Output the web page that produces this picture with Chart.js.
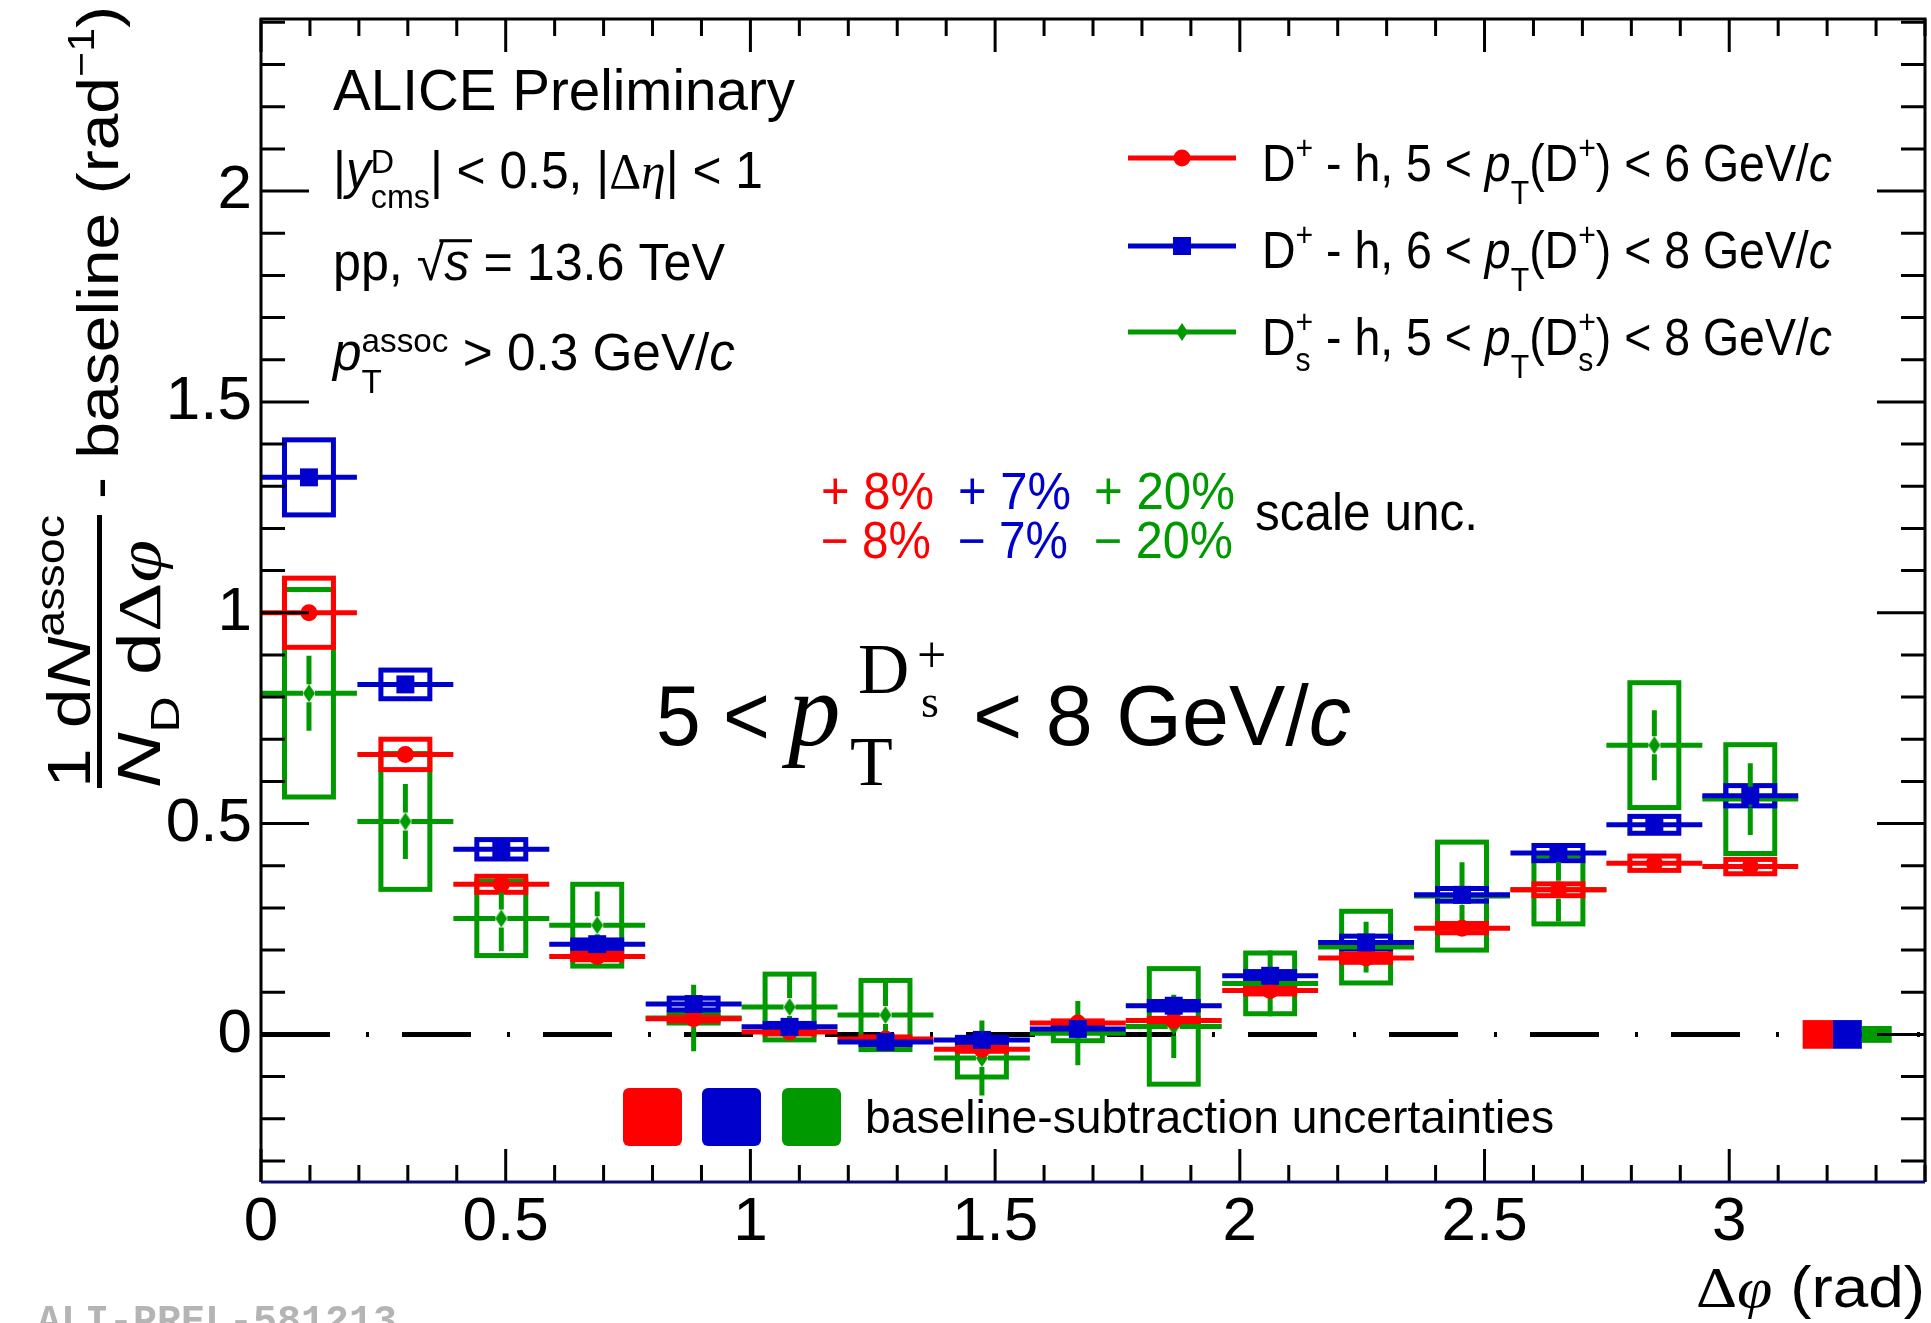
<!DOCTYPE html>
<html>
<head>
<meta charset="utf-8">
<script src="https://cdn.jsdelivr.net/npm/chart.js@4.4.1/dist/chart.umd.min.js"></script>
<style>
html, body { margin: 0; padding: 0; background: #fff; }
canvas { display: block; }
</style>
</head>
<body>
<canvas id="grafico" width="1931" height="1323"></canvas>
<script>
// bin centres in delta phi (rad); bins are pi/16 wide
const dPhi = [0.098, 0.295, 0.491, 0.687, 0.884, 1.080, 1.276, 1.473, 1.669, 1.865, 2.062, 2.258, 2.454, 2.651, 2.847, 3.043];
const halfBin = 0.098;
const boxHalf = 0.05;

// D+ - h, 5 < pT < 6 GeV/c (red)
const dplus56 = [1.000, 0.664, 0.356, 0.185, 0.037, 0.006, -0.011, -0.035, 0.027, 0.033, 0.104, 0.181, 0.252, 0.343, 0.406, 0.398];
const dplus56Stat = [0.018, 0.012, 0.008, 0.007, 0.006, 0.006, 0.006, 0.006, 0.006, 0.006, 0.007, 0.007, 0.008, 0.009, 0.010, 0.010];
const dplus56Syst = [0.082, 0.036, 0.019, 0.008, 0.005, 0.005, 0.005, 0.005, 0.005, 0.005, 0.008, 0.010, 0.011, 0.014, 0.017, 0.017];

// D+ - h, 6 < pT < 8 GeV/c (blue)
const dplus68 = [1.321, 0.830, 0.439, 0.214, 0.072, 0.018, -0.018, -0.013, 0.013, 0.068, 0.139, 0.218, 0.331, 0.430, 0.497, 0.566];
const dplus68Stat = [0.018, 0.012, 0.008, 0.007, 0.006, 0.006, 0.006, 0.006, 0.006, 0.006, 0.007, 0.007, 0.008, 0.009, 0.010, 0.010];
const dplus68Syst = [0.089, 0.034, 0.023, 0.010, 0.014, 0.008, 0.006, 0.006, 0.006, 0.010, 0.010, 0.015, 0.015, 0.018, 0.020, 0.024];

// Ds+ - h, 5 < pT < 8 GeV/c (green)
const ds58 = [0.809, 0.505, 0.275, 0.259, 0.039, 0.065, 0.046, -0.056, 0.003, 0.019, 0.121, 0.207, 0.328, 0.343, 0.686, 0.558];
const ds58Stat = [0.089, 0.089, 0.078, 0.080, 0.079, 0.078, 0.083, 0.089, 0.076, 0.075, 0.078, 0.060, 0.080, 0.075, 0.083, 0.085];
const ds58Syst = [0.246, 0.161, 0.088, 0.097, 0.012, 0.078, 0.082, 0.045, 0.018, 0.137, 0.072, 0.085, 0.128, 0.081, 0.148, 0.129];

// baseline-subtraction uncertainties (red, blue, green), drawn right of pi
const baselineUnc = [0.034, 0.034, 0.020];
const baselineLeft = [3.150, 3.212, 3.271];
const baselineRight = [3.212, 3.271, 3.332];

const zeroLine = [{x: 0, y: 0}, {x: 3.4, y: 0}];

const RED = '#ff0000', BLUE = '#0000cc', GREEN = '#009900';
const SANS = '"Liberation Sans", Arial, sans-serif';
const SERIF = '"Liberation Serif", "Times New Roman", serif';

// thin diamond marker for the Ds series
const diamond = document.createElement('canvas');
diamond.width = 12; diamond.height = 18;
const dg = diamond.getContext('2d');
dg.fillStyle = GREEN;
dg.beginPath(); dg.moveTo(6, 0); dg.lineTo(12, 9); dg.lineTo(6, 18); dg.lineTo(0, 9); dg.closePath(); dg.fill();

function pontos(vals) {
    return dPhi.map(function(x, i) { return {x: x, y: vals[i]}; });
}

function rotuloMeio(value) {
    const v2 = value * 2;
    return Math.abs(v2 - Math.round(v2)) < 1e-6 ? String(Math.round(value * 10) / 10) : '';
}

// text with super/subscripts, squeezed to a given width
function richText(ctx, x, y, parts, fs, width, color) {
    const items = [];
    let cx = 0, prevX = 0;
    for (const p of parts) {
        const size = fs * (p.s || (p.lvl ? 0.65 : 1));
        const font = (p.it ? 'italic ' : '') + size.toFixed(1) + 'px ' + (p.serif ? SERIF : SANS);
        ctx.font = font;
        const w = ctx.measureText(p.t).width;
        const dy = p.dy !== undefined ? p.dy * fs : (p.lvl === 'sup' ? -0.36 * fs : p.lvl === 'sub' ? 0.4 * fs : 0);
        let px;
        if (p.stack) { px = prevX; cx = Math.max(cx, prevX + w); }
        else { px = cx; cx += w; }
        items.push({font: font, t: p.t, x: px, dy: dy, w: w, size: size, over: p.over});
        prevX = px;
    }
    const sx = width ? width / cx : 1;
    ctx.save();
    ctx.translate(x, y);
    ctx.scale(sx, 1);
    ctx.fillStyle = color || '#000';
    ctx.textBaseline = 'alphabetic';
    ctx.textAlign = 'left';
    for (const it of items) {
        ctx.font = it.font;
        ctx.fillText(it.t, it.x, it.dy);
        if (it.over) ctx.fillRect(it.x - 0.1 * it.size, it.dy - 0.8 * it.size, it.w + 0.15 * it.size, 0.06 * it.size);
    }
    ctx.restore();
}

function drawBoxes(ctx, xs, ys, vals, syst, color) {
    ctx.strokeStyle = color;
    ctx.lineWidth = 5;
    for (let i = 0; i < vals.length; i++) {
        const l = xs.getPixelForValue(dPhi[i] - boxHalf), r = xs.getPixelForValue(dPhi[i] + boxHalf);
        const t = ys.getPixelForValue(vals[i] + syst[i]), b = ys.getPixelForValue(vals[i] - syst[i]);
        ctx.strokeRect(l, t, r - l, b - t);
    }
}

function drawBars(ctx, xs, ys, vals, stat, color, gx, gy) {
    ctx.strokeStyle = color;
    ctx.lineWidth = 5;
    ctx.lineCap = 'butt';
    for (let i = 0; i < vals.length; i++) {
        const px = xs.getPixelForValue(dPhi[i]), py = ys.getPixelForValue(vals[i]);
        const l = xs.getPixelForValue(dPhi[i] - halfBin), r = xs.getPixelForValue(dPhi[i] + halfBin);
        const t = ys.getPixelForValue(vals[i] + stat[i]), b = ys.getPixelForValue(vals[i] - stat[i]);
        ctx.beginPath();
        ctx.moveTo(l, py); ctx.lineTo(px - gx, py);
        ctx.moveTo(px + gx, py); ctx.lineTo(r, py);
        if (py - t > gy) {
            ctx.moveTo(px, t); ctx.lineTo(px, py - gy);
            ctx.moveTo(px, py + gy); ctx.lineTo(px, b);
        }
        ctx.stroke();
    }
}

const errorPlugin = {
    id: 'erros',
    afterDatasetDraw(chart, args) {
        if (args.index !== 0) return;
        const ctx = chart.ctx, xs = chart.scales.x, ys = chart.scales.y;
        ctx.save();
        drawBoxes(ctx, xs, ys, ds58, ds58Syst, GREEN);
        drawBoxes(ctx, xs, ys, dplus56, dplus56Syst, RED);
        drawBoxes(ctx, xs, ys, dplus68, dplus68Syst, BLUE);
        const cores = [RED, BLUE, GREEN];
        for (let k = 0; k < 3; k++) {
            ctx.fillStyle = cores[k];
            const l = xs.getPixelForValue(baselineLeft[k]), r = xs.getPixelForValue(baselineRight[k]);
            const t = ys.getPixelForValue(baselineUnc[k]), b = ys.getPixelForValue(-baselineUnc[k]);
            ctx.fillRect(l, t, r - l, b - t);
        }
        drawBars(ctx, xs, ys, ds58, ds58Stat, GREEN, 6, 9);
        drawBars(ctx, xs, ys, dplus56, dplus56Stat, RED, 0, 9);
        drawBars(ctx, xs, ys, dplus68, dplus68Stat, BLUE, 0, 9);
        ctx.restore();
    }
};

const framePlugin = {
    id: 'moldura',
    afterDraw(chart) {
        const ctx = chart.ctx, a = chart.chartArea, xs = chart.scales.x, ys = chart.scales.y;
        ctx.save();
        // ticks
        ctx.strokeStyle = '#000';
        ctx.lineWidth = 3;
        ctx.beginPath();
        ys.ticks.forEach(function(t) {
            const p = ys.getPixelForValue(t.value);
            const len = t.label !== '' ? 48 : 24;
            ctx.moveTo(a.left, p); ctx.lineTo(a.left + len, p);
            ctx.moveTo(a.right, p); ctx.lineTo(a.right - len, p);
        });
        xs.ticks.forEach(function(t) {
            const p = xs.getPixelForValue(t.value);
            const len = t.label !== '' ? 33 : 17;
            ctx.moveTo(p, a.bottom); ctx.lineTo(p, a.bottom - len);
            ctx.moveTo(p, a.top); ctx.lineTo(p, a.top + len);
        });
        ctx.stroke();
        ctx.beginPath();
        ctx.moveTo(a.left, a.bottom); ctx.lineTo(a.left, a.top); ctx.lineTo(a.right, a.top); ctx.lineTo(a.right, a.bottom);
        ctx.stroke();
        ctx.strokeStyle = '#0a0a6e';
        ctx.beginPath(); ctx.moveTo(a.left, a.bottom); ctx.lineTo(a.right, a.bottom); ctx.stroke();

        // header text
        richText(ctx, 333, 110, [{t: 'ALICE Preliminary'}], 58, 462);
        richText(ctx, 333, 188, [{t: '|'}, {t: 'y', it: true}, {t: 'D', lvl: 'sup', dy: -0.3}, {t: 'cms', lvl: 'sub', stack: true, dy: 0.39},
            {t: '| < 0.5, |'}, {t: 'Δ', serif: true}, {t: 'η', serif: true, it: true}, {t: '| < 1'}], 51, 430);
        richText(ctx, 333, 280, [{t: 'pp, '}, {t: '√'}, {t: 's', it: true, over: true}, {t: ' = 13.6 TeV'}], 51, 392);
        richText(ctx, 333, 370, [{t: 'p', it: true}, {t: 'assoc', lvl: 'sup', dy: -0.35}, {t: 'T', lvl: 'sub', stack: true, dy: 0.45},
            {t: ' > 0.3 GeV/'}, {t: 'c', it: true}], 51, 402);

        // legend
        const legY = [158, 246, 332];
        const legC = [RED, BLUE, GREEN];
        ctx.lineWidth = 5;
        for (let k = 0; k < 3; k++) {
            ctx.strokeStyle = legC[k];
            ctx.beginPath(); ctx.moveTo(1128, legY[k]); ctx.lineTo(1236, legY[k]); ctx.stroke();
        }
        ctx.fillStyle = RED;
        ctx.beginPath(); ctx.arc(1182, legY[0], 8.5, 0, Math.PI * 2); ctx.fill();
        ctx.fillStyle = BLUE;
        ctx.fillRect(1173, legY[1] - 9, 18, 18);
        ctx.drawImage(diamond, 1176, legY[2] - 9);
        richText(ctx, 1262, 181, [{t: 'D'}, {t: '+', lvl: 'sup', dy: -0.42}, {t: ' - h, 5 < '}, {t: 'p', it: true}, {t: 'T', lvl: 'sub', dy: 0.45},
            {t: '(D'}, {t: '+', lvl: 'sup', dy: -0.42}, {t: ') < 6 GeV/'}, {t: 'c', it: true}], 52, 570);
        richText(ctx, 1262, 268, [{t: 'D'}, {t: '+', lvl: 'sup', dy: -0.42}, {t: ' - h, 6 < '}, {t: 'p', it: true}, {t: 'T', lvl: 'sub', dy: 0.45},
            {t: '(D'}, {t: '+', lvl: 'sup', dy: -0.42}, {t: ') < 8 GeV/'}, {t: 'c', it: true}], 52, 570);
        richText(ctx, 1262, 355, [{t: 'D'}, {t: '+', lvl: 'sup', dy: -0.42}, {t: 's', lvl: 'sub', stack: true, dy: 0.3}, {t: ' - h, 5 < '},
            {t: 'p', it: true}, {t: 'T', lvl: 'sub', dy: 0.45}, {t: '(D'}, {t: '+', lvl: 'sup', dy: -0.42}, {t: 's', lvl: 'sub', stack: true, dy: 0.3},
            {t: ') < 8 GeV/'}, {t: 'c', it: true}], 52, 570);

        // scale uncertainties
        richText(ctx, 821, 509, [{t: '+ 8%'}], 51, 113, RED);
        richText(ctx, 821, 558, [{t: '− 8%'}], 51, 110, RED);
        richText(ctx, 958, 509, [{t: '+ 7%'}], 51, 113, BLUE);
        richText(ctx, 958, 558, [{t: '− 7%'}], 51, 110, BLUE);
        richText(ctx, 1094, 509, [{t: '+ 20%'}], 51, 141, GREEN);
        richText(ctx, 1094, 558, [{t: '− 20%'}], 51, 139, GREEN);
        richText(ctx, 1255, 530, [{t: 'scale unc.'}], 51, 223);

        // big pT label
        richText(ctx, 656, 745, [{t: '5 <'}], 86, 114);
        ctx.fillStyle = '#000';
        ctx.textAlign = 'left';
        ctx.textBaseline = 'alphabetic';
        ctx.font = 'italic 105px ' + SERIF; ctx.fillText('p', 788, 745);
        ctx.font = '70px ' + SERIF; ctx.fillText('T', 850, 785);
        ctx.font = '71px ' + SERIF; ctx.fillText('D', 858, 693);
        ctx.font = '52px ' + SERIF; ctx.fillText('+', 917, 672);
        ctx.font = '46px ' + SERIF; ctx.fillText('s', 921, 717);
        richText(ctx, 973, 745, [{t: '< 8 GeV/'}, {t: 'c', it: true}], 86, 378);

        // baseline-subtraction legend
        const sw = [[623, RED], [702, BLUE], [782, GREEN]];
        sw.forEach(function(s) {
            ctx.fillStyle = s[1];
            ctx.beginPath(); ctx.roundRect(s[0], 1088, 59, 58, 6); ctx.fill();
        });
        richText(ctx, 865, 1133, [{t: 'baseline-subtraction uncertainties'}], 46, 689);

        // x title
        richText(ctx, 1696, 1307, [{t: 'Δ', serif: true}, {t: 'φ', serif: true, it: true}, {t: ' (rad)'}], 58, 229);

        // y title (rotated)
        ctx.save();
        ctx.translate(90, 788); ctx.rotate(-Math.PI / 2);
        richText(ctx, 0, 0, [{t: '1 d'}, {t: 'N', it: true}, {t: 'assoc', lvl: 'sup', dy: -0.42}], 62, 273);
        ctx.restore();
        ctx.save();
        ctx.translate(160, 788); ctx.rotate(-Math.PI / 2);
        richText(ctx, 0, 0, [{t: 'N', it: true}, {t: 'D', lvl: 'sub', dy: 0.3}, {t: ' d'}, {t: 'Δ', serif: true}, {t: 'φ', serif: true, it: true}], 62, 248);
        ctx.restore();
        ctx.fillStyle = '#000';
        ctx.fillRect(97, 515, 5, 273);
        ctx.save();
        ctx.translate(118, 499); ctx.rotate(-Math.PI / 2);
        richText(ctx, 0, 0, [{t: '- baseline (rad'}, {t: '−1', lvl: 'sup', dy: -0.42}, {t: ')'}], 58, 493);
        ctx.restore();

        // watermark
        ctx.fillStyle = '#b4b4b4';
        ctx.font = 'bold 40px "Liberation Mono", monospace';
        ctx.fillText('ALI-PREL-581213', 37, 1333, 369);
        ctx.restore();
    }
};

const grafico = new Chart(document.getElementById('grafico'), {
    type: 'scatter',
    data: {
        datasets: [
            {
                label: 'zero',
                data: zeroLine,
                showLine: true,
                borderColor: '#000',
                borderWidth: 5,
                borderDash: [69, 36, 3, 33],
                pointRadius: 0,
                order: 4
            },
            {
                label: 'Ds+ - h, 5 < pT < 8 GeV/c',
                data: pontos(ds58),
                pointStyle: diamond,
                pointRadius: 9,
                showLine: false,
                order: 3
            },
            {
                label: 'D+ - h, 5 < pT < 6 GeV/c',
                data: pontos(dplus56),
                pointStyle: 'circle',
                pointRadius: 8.5,
                pointBackgroundColor: RED,
                pointBorderWidth: 0,
                showLine: false,
                order: 2
            },
            {
                label: 'D+ - h, 6 < pT < 8 GeV/c',
                data: pontos(dplus68),
                pointStyle: 'rect',
                pointRadius: 12.7,
                pointBackgroundColor: BLUE,
                pointBorderWidth: 0,
                showLine: false,
                order: 1
            }
        ]
    },
    options: {
        responsive: false,
        animation: false,
        devicePixelRatio: 1,
        layout: { padding: { top: 19, right: 6, left: 0, bottom: 0 }, autoPadding: false },
        plugins: { legend: { display: false }, tooltip: { enabled: false } },
        scales: {
            x: {
                type: 'linear',
                min: 0,
                max: 3.4,
                grid: { display: false, drawTicks: false },
                border: { display: false },
                ticks: {
                    stepSize: 0.1,
                    includeBounds: false,
                    autoSkip: false,
                    maxRotation: 0,
                    minRotation: 0,
                    padding: 4,
                    color: '#000',
                    font: { family: SANS, size: 62 },
                    callback: rotuloMeio
                },
                afterFit: function(s) { s.height = 141; s.paddingLeft = 0; s.paddingRight = 0; }
            },
            y: {
                type: 'linear',
                min: -0.35,
                max: 2.408,
                grid: { display: false, drawTicks: false },
                border: { display: false },
                ticks: {
                    stepSize: 0.1,
                    includeBounds: false,
                    autoSkip: false,
                    padding: 9,
                    color: '#000',
                    font: { family: SANS, size: 62 },
                    callback: rotuloMeio
                },
                afterFit: function(s) { s.width = 261; s.paddingTop = 0; s.paddingBottom = 0; }
            }
        }
    },
    plugins: [errorPlugin, framePlugin]
});
</script>
</body>
</html>
